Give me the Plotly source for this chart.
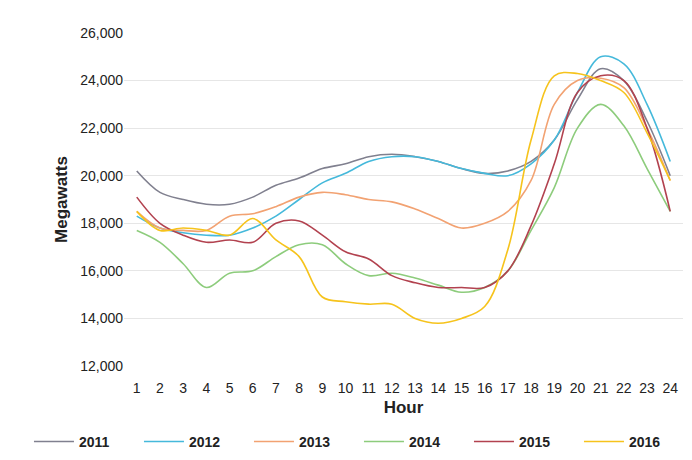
import plotly.graph_objects as go

hours = list(range(1, 25))
years = ["2011", "2012", "2013", "2014", "2015", "2016"]
y2011 = [20200,19300,19000,18800,18800,19100,19600,19900,20300,20500,20800,20900,20800,20600,20300,20100,20200,20600,21500,23200,24500,24000,22300,20000]
y2012 = [18300,17800,17600,17500,17500,17800,18300,19000,19700,20100,20600,20800,20800,20600,20300,20100,20000,20500,21500,23500,25000,24700,23000,20600]
y2013 = [18500,17800,17700,17700,18300,18400,18700,19100,19300,19200,19000,18900,18600,18200,17800,18000,18500,19800,23000,24000,24100,23700,22000,19800]
y2014 = [17700,17200,16300,15300,15900,16000,16600,17100,17100,16300,15800,15900,15700,15400,15100,15300,16000,17700,19500,22000,23000,22100,20300,18500]
y2015 = [19100,18000,17500,17200,17300,17200,18000,18100,17500,16800,16500,15800,15500,15300,15300,15300,16000,17900,20500,23500,24200,24000,22000,18500]
y2016 = [18500,17700,17800,17700,17500,18200,17300,16600,14900,14700,14600,14600,14000,13800,14000,14500,16900,21500,24200,24300,24000,23500,21800,19800]
series = [y2011, y2012, y2013, y2014, y2015, y2016]
colors = ["#80808f", "#45b9db", "#f2a272", "#8dcc7c", "#b2424f", "#f6c31c"]

fig = go.Figure()
for name, vals, c in zip(years, series, colors):
    fig.add_trace(go.Scatter(x=hours, y=vals, name=f"<b>{name}</b>", mode="lines",
                             line=dict(color=c, width=1.6, shape="spline")))

fig.update_layout(
    width=692, height=460, paper_bgcolor="white", plot_bgcolor="white",
    margin=dict(l=116, r=17, t=25, b=102, autoexpand=False),
    font=dict(family="Liberation Sans, Arial", size=14, color="#222"),
    xaxis=dict(tickmode="linear", tick0=1, dtick=1, range=[0.45, 24.55],
               showgrid=False, showline=False, ticks="", ticklabelstandoff=12,
               title=dict(text="<b>Hour</b>", standoff=6)),
    yaxis=dict(range=[12000, 26000], dtick=2000, tickformat=",",
               gridcolor="#e6e6e6", zeroline=False, ticks="",
               title=dict(text="<b>Megawatts</b>", standoff=8)),
    legend=dict(orientation="h", x=-0.17, xanchor="left", y=-0.18, yanchor="top",
                font=dict(size=14), traceorder="normal",
                entrywidth=55, entrywidthmode="pixels", itemwidth=40),
)
fig.write_html("out.html")
